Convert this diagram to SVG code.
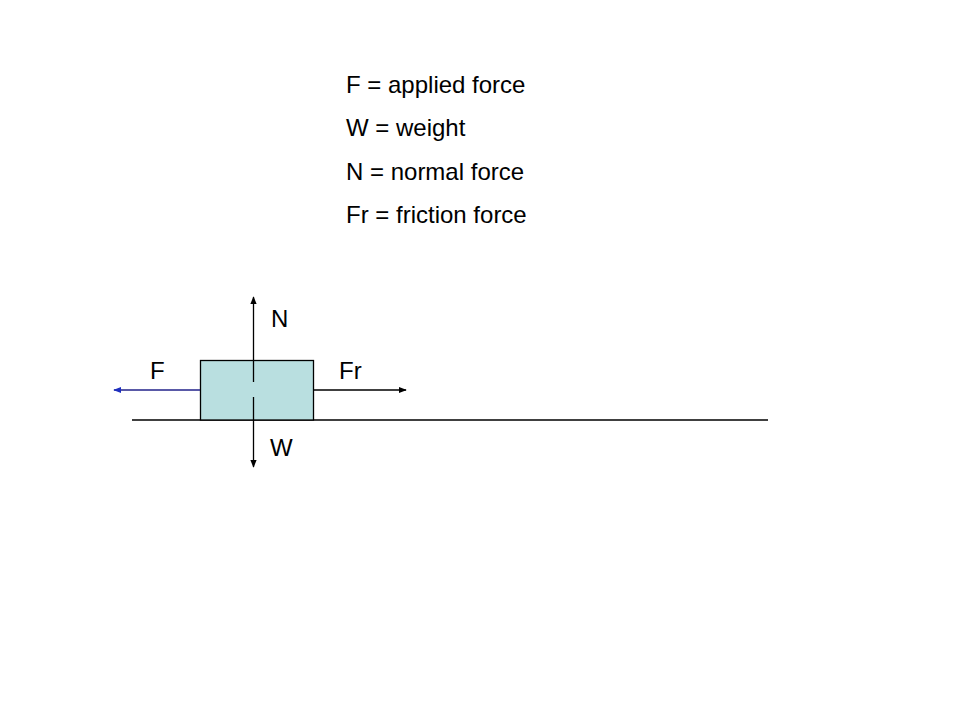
<svg xmlns="http://www.w3.org/2000/svg" width="960" height="720" viewBox="0 0 960 720">
<style>
text{font-family:"Liberation Sans",Arial,sans-serif;font-size:24px;fill:#000}
.k{stroke:#000;stroke-width:1.3;fill:none}
</style>
<defs>
<marker id="ab" viewBox="0 0 10 10" refX="9" refY="5" markerWidth="8" markerHeight="8" orient="auto" markerUnits="userSpaceOnUse"><path d="M0,1 L10,5 L0,9 Z" fill="#000"/></marker>
<marker id="au" viewBox="0 0 10 10" refX="9" refY="5" markerWidth="8" markerHeight="8" orient="auto" markerUnits="userSpaceOnUse"><path d="M0,1 L10,5 L0,9 Z" fill="#1e2fc0"/></marker>
</defs>
<rect width="960" height="720" fill="#fff"/>
<g id="legend">
<text x="346" y="93">F = applied force</text>
<text x="346" y="136">W = weight</text>
<text x="346" y="180">N = normal force</text>
<text x="346" y="223">Fr = friction force</text>
</g>
<g id="ground"><line class="k" x1="132" y1="420" x2="768" y2="420"/></g>
<g id="block"><rect x="200.5" y="360.5" width="113" height="59.5" fill="#b9dfe0" stroke="#000" stroke-width="1.3"/></g>
<g id="connectors">
<line class="k" x1="253.5" y1="382" x2="253.5" y2="297" marker-end="url(#ab)"/>
<line class="k" x1="253.5" y1="397" x2="253.5" y2="467" marker-end="url(#ab)"/>
<line x1="200" y1="390" x2="114" y2="390" stroke="#22228a" stroke-width="1.3" marker-end="url(#au)"/>
<line class="k" x1="313" y1="390" x2="406" y2="390" marker-end="url(#ab)"/>
</g>
<g id="labels">
<text x="271" y="327">N</text>
<text x="150" y="379">F</text>
<text x="339" y="379">Fr</text>
<text x="270" y="456">W</text>
</g>
</svg>
